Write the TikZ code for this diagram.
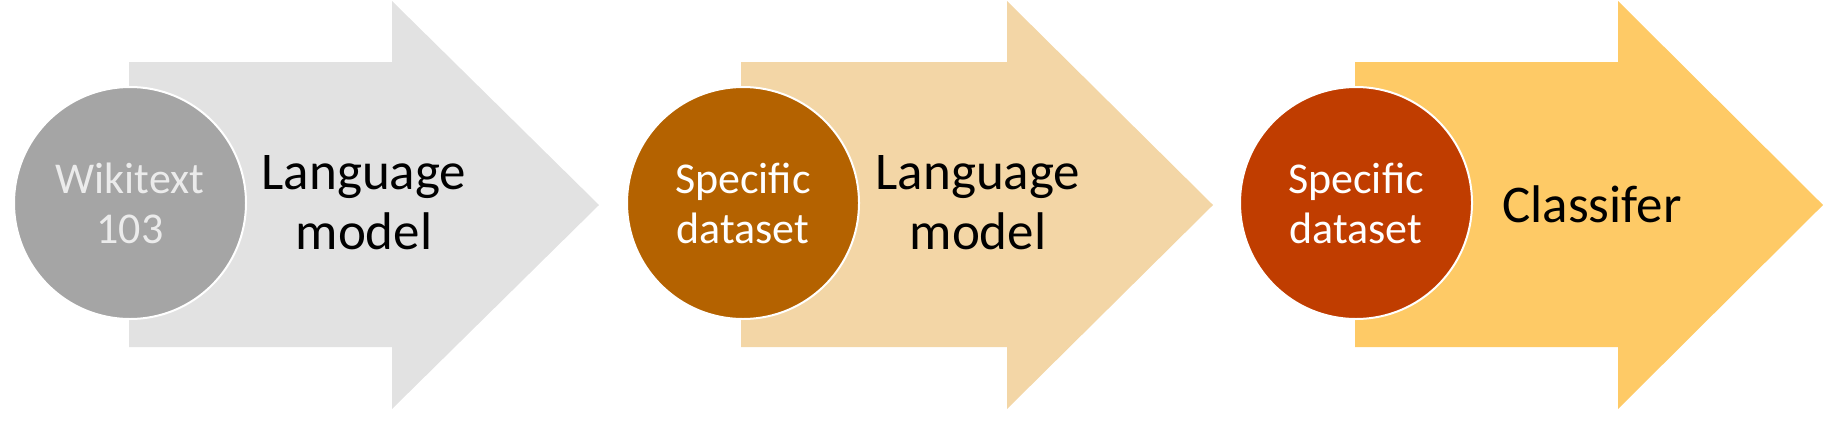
\documentclass[tikz,border=0pt]{standalone}
\usepackage{fontspec}
\setmainfont{Carlito}
\begin{document}
\begin{tikzpicture}[x=0.5pt,y=-0.5pt,
  disc/.style={circle,draw=white,line width=1pt,minimum size=116pt,inner sep=0pt,align=center,text=white,font=\fontsize{22}{25}\selectfont},
  label/.style={align=center,text=black,font=\fontsize{26.5}{30}\selectfont}]
\useasboundingbox (0,0) rectangle (1840,428);
\definecolor{arrA}{HTML}{E2E2E2}
\definecolor{discA}{HTML}{A5A5A5}
\definecolor{arrB}{HTML}{F3D6A6}
\definecolor{discB}{HTML}{B46200}
\definecolor{arrC}{HTML}{FECA66}
\definecolor{discC}{HTML}{C03D00}
% arrows
\fill[arrA] (129,62) -- (392,62) -- (392,1) -- (599,205) -- (392,409) -- (392,347) -- (129,347) -- cycle;
\fill[arrB] (741,62) -- (1007,62) -- (1007,1) -- (1213,205) -- (1007,409) -- (1007,347) -- (741,347) -- cycle;
\fill[arrC] (1355,62) -- (1618,62) -- (1618,1) -- (1823,205) -- (1618,409) -- (1618,347) -- (1355,347) -- cycle;
% discs
\node[disc,fill=discA,text=white!92!black] (d1) at (130,203) {Wikitext\\103};
\node[disc,fill=discB] (d2) at (743,203) {Specific\\dataset};
\node[disc,fill=discC] (d3) at (1356,203) {Specific\\dataset};
% labels
\node[label] (l1) at (364,203) {Language\\model};
\node[label] (l2) at (978,203) {Language\\model};
\node[label] (l3) at (1592,204) {Classifer};
\end{tikzpicture}
\end{document}
